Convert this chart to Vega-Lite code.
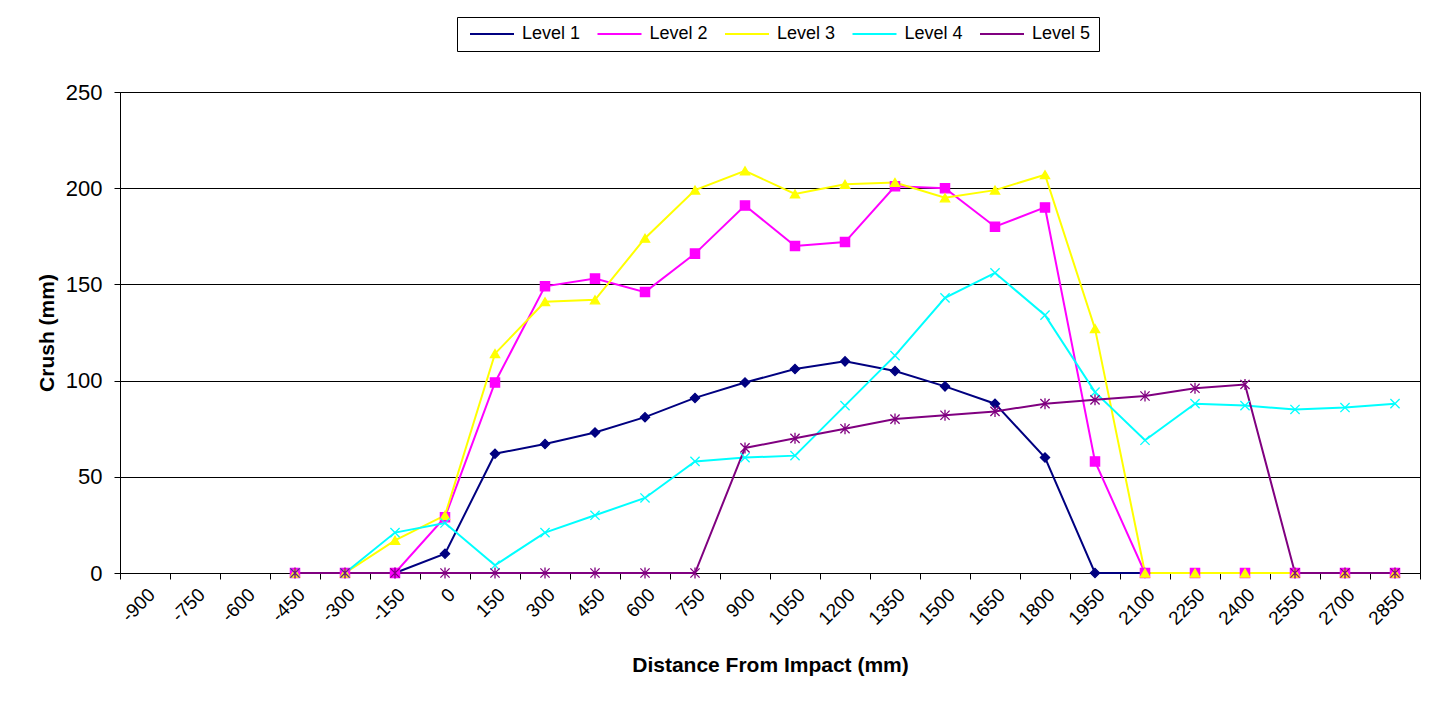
{
  "$schema": "https://vega.github.io/schema/vega-lite/v6.json",
  "width": 1300,
  "height": 481,
  "autosize": {"type": "none"},
  "padding": {"left": 120, "top": 92, "right": 30, "bottom": 136},
  "background": "white",
  "config": {
    "font": "Liberation Sans",
    "view": {"stroke": "black", "strokeWidth": 1}
  },
  "data": {
    "values": [
      {"level": "Level 1", "d": -150, "crush": 0},
      {"level": "Level 1", "d": 0, "crush": 10},
      {"level": "Level 1", "d": 150, "crush": 62},
      {"level": "Level 1", "d": 300, "crush": 67},
      {"level": "Level 1", "d": 450, "crush": 73},
      {"level": "Level 1", "d": 600, "crush": 81},
      {"level": "Level 1", "d": 750, "crush": 91},
      {"level": "Level 1", "d": 900, "crush": 99},
      {"level": "Level 1", "d": 1050, "crush": 106},
      {"level": "Level 1", "d": 1200, "crush": 110},
      {"level": "Level 1", "d": 1350, "crush": 105},
      {"level": "Level 1", "d": 1500, "crush": 97},
      {"level": "Level 1", "d": 1650, "crush": 88},
      {"level": "Level 1", "d": 1800, "crush": 60},
      {"level": "Level 1", "d": 1950, "crush": 0},
      {"level": "Level 1", "d": 2100, "crush": 0},

      {"level": "Level 2", "d": -450, "crush": 0},
      {"level": "Level 2", "d": -300, "crush": 0},
      {"level": "Level 2", "d": -150, "crush": 0},
      {"level": "Level 2", "d": 0, "crush": 29},
      {"level": "Level 2", "d": 150, "crush": 99},
      {"level": "Level 2", "d": 300, "crush": 149},
      {"level": "Level 2", "d": 450, "crush": 153},
      {"level": "Level 2", "d": 600, "crush": 146},
      {"level": "Level 2", "d": 750, "crush": 166},
      {"level": "Level 2", "d": 900, "crush": 191},
      {"level": "Level 2", "d": 1050, "crush": 170},
      {"level": "Level 2", "d": 1200, "crush": 172},
      {"level": "Level 2", "d": 1350, "crush": 201},
      {"level": "Level 2", "d": 1500, "crush": 200},
      {"level": "Level 2", "d": 1650, "crush": 180},
      {"level": "Level 2", "d": 1800, "crush": 190},
      {"level": "Level 2", "d": 1950, "crush": 58},
      {"level": "Level 2", "d": 2100, "crush": 0},
      {"level": "Level 2", "d": 2250, "crush": 0},
      {"level": "Level 2", "d": 2400, "crush": 0},
      {"level": "Level 2", "d": 2550, "crush": 0},
      {"level": "Level 2", "d": 2700, "crush": 0},
      {"level": "Level 2", "d": 2850, "crush": 0},

      {"level": "Level 3", "d": -450, "crush": 0},
      {"level": "Level 3", "d": -300, "crush": 0},
      {"level": "Level 3", "d": -150, "crush": 17},
      {"level": "Level 3", "d": 0, "crush": 30},
      {"level": "Level 3", "d": 150, "crush": 114},
      {"level": "Level 3", "d": 300, "crush": 141},
      {"level": "Level 3", "d": 450, "crush": 142},
      {"level": "Level 3", "d": 600, "crush": 174},
      {"level": "Level 3", "d": 750, "crush": 199},
      {"level": "Level 3", "d": 900, "crush": 209},
      {"level": "Level 3", "d": 1050, "crush": 197},
      {"level": "Level 3", "d": 1200, "crush": 202},
      {"level": "Level 3", "d": 1350, "crush": 203},
      {"level": "Level 3", "d": 1500, "crush": 195},
      {"level": "Level 3", "d": 1650, "crush": 199},
      {"level": "Level 3", "d": 1800, "crush": 207},
      {"level": "Level 3", "d": 1950, "crush": 127},
      {"level": "Level 3", "d": 2100, "crush": 0},
      {"level": "Level 3", "d": 2250, "crush": 0},
      {"level": "Level 3", "d": 2400, "crush": 0},
      {"level": "Level 3", "d": 2550, "crush": 0},
      {"level": "Level 3", "d": 2700, "crush": 0},
      {"level": "Level 3", "d": 2850, "crush": 0},

      {"level": "Level 4", "d": -450, "crush": 0},
      {"level": "Level 4", "d": -300, "crush": 0},
      {"level": "Level 4", "d": -150, "crush": 21},
      {"level": "Level 4", "d": 0, "crush": 26},
      {"level": "Level 4", "d": 150, "crush": 4},
      {"level": "Level 4", "d": 300, "crush": 21},
      {"level": "Level 4", "d": 450, "crush": 30},
      {"level": "Level 4", "d": 600, "crush": 39},
      {"level": "Level 4", "d": 750, "crush": 58},
      {"level": "Level 4", "d": 900, "crush": 60},
      {"level": "Level 4", "d": 1050, "crush": 61},
      {"level": "Level 4", "d": 1200, "crush": 87},
      {"level": "Level 4", "d": 1350, "crush": 113},
      {"level": "Level 4", "d": 1500, "crush": 143},
      {"level": "Level 4", "d": 1650, "crush": 156},
      {"level": "Level 4", "d": 1800, "crush": 134},
      {"level": "Level 4", "d": 1950, "crush": 94},
      {"level": "Level 4", "d": 2100, "crush": 69},
      {"level": "Level 4", "d": 2250, "crush": 88},
      {"level": "Level 4", "d": 2400, "crush": 87},
      {"level": "Level 4", "d": 2550, "crush": 85},
      {"level": "Level 4", "d": 2700, "crush": 86},
      {"level": "Level 4", "d": 2850, "crush": 88},

      {"level": "Level 5", "d": -450, "crush": 0},
      {"level": "Level 5", "d": -300, "crush": 0},
      {"level": "Level 5", "d": -150, "crush": 0},
      {"level": "Level 5", "d": 0, "crush": 0},
      {"level": "Level 5", "d": 150, "crush": 0},
      {"level": "Level 5", "d": 300, "crush": 0},
      {"level": "Level 5", "d": 450, "crush": 0},
      {"level": "Level 5", "d": 600, "crush": 0},
      {"level": "Level 5", "d": 750, "crush": 0},
      {"level": "Level 5", "d": 900, "crush": 65},
      {"level": "Level 5", "d": 1050, "crush": 70},
      {"level": "Level 5", "d": 1200, "crush": 75},
      {"level": "Level 5", "d": 1350, "crush": 80},
      {"level": "Level 5", "d": 1500, "crush": 82},
      {"level": "Level 5", "d": 1650, "crush": 84},
      {"level": "Level 5", "d": 1800, "crush": 88},
      {"level": "Level 5", "d": 1950, "crush": 90},
      {"level": "Level 5", "d": 2100, "crush": 92},
      {"level": "Level 5", "d": 2250, "crush": 96},
      {"level": "Level 5", "d": 2400, "crush": 98},
      {"level": "Level 5", "d": 2550, "crush": 0},
      {"level": "Level 5", "d": 2700, "crush": 0},
      {"level": "Level 5", "d": 2850, "crush": 0}
    ]
  },
  "encoding": {
    "x": {
      "field": "d",
      "type": "ordinal",
      "scale": {
        "type": "band",
        "paddingInner": 0,
        "paddingOuter": 0,
        "domain": [-900, -750, -600, -450, -300, -150, 0, 150, 300, 450, 600, 750, 900, 1050, 1200, 1350, 1500, 1650, 1800, 1950, 2100, 2250, 2400, 2550, 2700, 2850]
      },
      "axis": {
        "title": "Distance From Impact (mm)",
        "titleFontSize": 21,
        "titleFontWeight": "bold",
        "titleColor": "black",
        "titlePadding": 26,
        "labelAngle": -45,
        "labelFontSize": 19,
        "labelColor": "black",
        "labelPadding": 6,
        "tickBand": "extent",
        "tickSize": 6,
        "tickColor": "black",
        "domainColor": "black",
        "grid": false
      }
    },
    "y": {
      "field": "crush",
      "type": "quantitative",
      "scale": {"domain": [0, 250], "nice": false},
      "axis": {
        "title": "Crush (mm)",
        "values": [0, 50, 100, 150, 200, 250],
        "titleFontSize": 21,
        "titleFontWeight": "bold",
        "titleColor": "black",
        "titleX": -63,
        "labelFontSize": 22,
        "labelColor": "black",
        "labelPadding": 12,
        "tickSize": 6,
        "tickColor": "black",
        "domainColor": "black",
        "grid": true,
        "gridColor": "black",
        "gridOpacity": 1,
        "gridWidth": 1
      }
    }
  },
  "layer": [
    {
      "mark": {"type": "line", "strokeWidth": 2},
      "encoding": {
        "color": {
          "field": "level",
          "type": "nominal",
          "scale": {
            "domain": ["Level 1", "Level 2", "Level 3", "Level 4", "Level 5"],
            "range": ["#000080", "#FF00FF", "#FFFF00", "#00FFFF", "#800080"]
          },
          "legend": {
            "title": null,
            "orient": "none",
            "legendX": 337,
            "legendY": -75,
            "direction": "horizontal",
            "strokeColor": "black",
            "fillColor": "white",
            "padding": 8,
            "labelFontSize": 18,
            "labelColor": "black",
            "labelOffset": 39,
            "columnPadding": 11.5,
            "symbolSize": 64,
            "symbolType": "M-1,0H10",
            "symbolStrokeWidth": 2,
            "symbolOpacity": 1
          }
        }
      }
    },
    {
      "mark": {"type": "point", "filled": true, "opacity": 1, "size": 85, "strokeWidth": 1.3},
      "encoding": {
        "fill": {
          "field": "level",
          "type": "nominal",
          "scale": {
            "domain": ["Level 1", "Level 2", "Level 3", "Level 4", "Level 5"],
            "range": ["#000080", "#FF00FF", "#FFFF00", "#00FFFF", "#800080"]
          },
          "legend": {
            "title": null,
            "orient": "none",
            "legendX": 357,
            "legendY": -75,
            "direction": "horizontal",
            "padding": 8,
            "labelFontSize": 18,
            "labelColor": "black",
            "labelOpacity": 0,
            "labelOffset": 39,
            "columnPadding": 11.5,
            "symbolSize": 64,
            "symbolStrokeWidth": 1.3,
            "symbolOpacity": 1
          }
        },
        "stroke": {
          "field": "level",
          "type": "nominal",
          "scale": {
            "domain": ["Level 1", "Level 2", "Level 3", "Level 4", "Level 5"],
            "range": ["#000080", "#FF00FF", "#FFFF00", "#00FFFF", "#800080"]
          },
          "legend": null
        },
        "shape": {
          "field": "level",
          "type": "nominal",
          "scale": {
            "domain": ["Level 1", "Level 2", "Level 3", "Level 4", "Level 5"],
            "range": ["diamond", "square", "triangle-up", "M-1,-1L1,1M-1,1L1,-1", "M-1,-1L1,1M-1,1L1,-1M0,-1.2L0,1.2"]
          },
          "legend": null
        }
      }
    }
  ],
  "resolve": {"legend": {"color": "independent"}}
}
